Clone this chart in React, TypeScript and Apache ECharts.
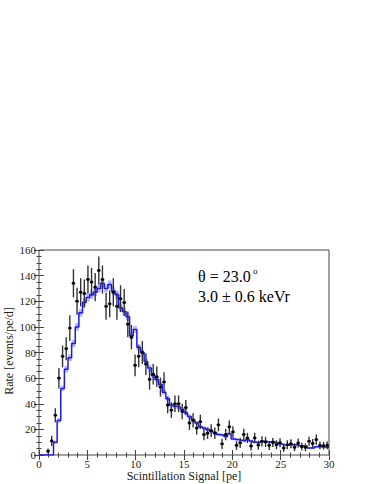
import React, { useEffect, useRef } from 'react';
import * as echarts from 'echarts';

// Histogram binning (pe)
const BIN_WIDTH = 0.375;
const FIRST_DATA_BIN = 2;

// Measured rate per bin (bins 2..79) [events/pe/d]
const dataRate = [
  3, 11, 31, 60, 77, 83, 99, 134, 120, 127,
  126, 137, 135, 131, 144, 137, 116, 118, 127, 116,
  122, 119, 102, 92, 70, 77, 80, 71, 59, 63,
  61, 53, 57, 39, 35, 40, 40, 34, 37, 25,
  27, 21, 26, 16, 17, 19, 17, 23.5, 8.7, 16,
  22, 18, 7.5, 9.5, 16, 13.3, 7, 13.3, 7.7, 10.7,
  10.2, 7.5, 9.8, 8, 9.5, 5.5, 8, 8.8, 6, 9.4,
  6.5, 6, 10.7, 9, 12, 7.5, 7.2, 7.5,
];

// Statistical error on each measured bin
const dataErr = [
  2, 4, 5.5, 8, 8.5, 9, 10, 11, 10.5, 11,
  11, 11, 11, 11, 11, 11, 10.5, 10.5, 11, 10.5,
  10.5, 10.5, 10, 9.5, 8.5, 8.5, 9, 8.5, 8, 8,
  8, 7.5, 7.5, 6.5, 6, 6.5, 6.5, 6, 6, 5.5,
  5.5, 5, 5.5, 4.5, 4.5, 5, 4.5, 5, 4, 4.5,
  5, 4.5, 3.5, 4, 4.5, 4, 3.5, 4, 3.5, 4,
  4, 3.5, 3.5, 3.5, 3.5, 3, 3.5, 3.5, 3, 3.5,
  3, 3, 3.5, 3.5, 4, 3, 3, 3,
];

// Simulated spectrum per bin (bins 0..79)
const modelRate = [
  0, 0, 0, 0, 10, 27, 52, 67, 76, 87,
  100, 111, 119, 123, 125, 127, 130, 134, 130, 133,
  128, 125, 115, 112, 108, 93, 98, 84, 80, 73,
  68, 62, 59, 55, 49, 44, 39, 38, 37.5, 35.5,
  33, 30, 27.5, 25, 22, 21, 20, 18.5, 17.5, 16,
  15.5, 14.5, 16.5, 12.5, 12, 11.5, 11, 12, 11, 10,
  9.5, 10.5, 10.5, 10, 10.5, 9.5, 8.5, 8, 7.8, 8,
  8, 7.5, 7.2, 7, 5.5, 5.5, 6.5, 6.5, 6.2, 6,
];

// Uncertainty band of the simulation
const modelErr = [
  0, 0, 0, 0, 1.2, 1.8, 2.2, 2.5, 2.6, 2.8,
  3, 3, 3.2, 3.2, 3.2, 3.2, 3.2, 3.2, 3.2, 3.2,
  3.2, 3.2, 3, 3, 3, 2.8, 2.8, 2.6, 2.6, 2.5,
  2.4, 2.3, 2.2, 2.1, 2, 1.9, 1.8, 1.8, 1.8, 1.7,
  1.6, 1.5, 1.5, 1.4, 1.3, 1.3, 1.3, 1.2, 1.2, 1.1,
  1.1, 1.1, 1.1, 1, 1, 1, 1, 1, 1, 0.9,
  0.9, 0.9, 0.9, 0.9, 0.9, 0.9, 0.8, 0.8, 0.8, 0.8,
  0.8, 0.8, 0.8, 0.8, 0.7, 0.7, 0.7, 0.7, 0.7, 0.7,
];

const xMin = 0, xMax = 30, xStep = 5;
const yMin = 0, yMax = 160, yStep = 20;

export default function App() {
  const ref = useRef<HTMLDivElement>(null);

  useEffect(() => {
    if (!ref.current) return;
    const chart = echarts.init(ref.current, null, { renderer: 'svg' });
    const serif = '"Liberation Serif", "Times New Roman", serif';
    const axisColor = '#444';

    const modelLine: number[][] = modelRate.map((v, i) => [i * BIN_WIDTH, v]);
    modelLine.push([modelRate.length * BIN_WIDTH, modelRate[modelRate.length - 1]]);

    const band = modelRate
      .map((v, i) => [i * BIN_WIDTH, (i + 1) * BIN_WIDTH, v - modelErr[i], v + modelErr[i]])
      .filter((d) => d[3] > d[2]);

    const points = dataRate.map((v, k) => {
      const i = k + FIRST_DATA_BIN;
      return [(i + 0.5) * BIN_WIDTH, v, dataErr[k]];
    });

    const tickStyle = { color: axisColor, width: 1 };
    const baseX = {
      type: 'value', min: xMin, max: xMax, interval: xStep,
      axisLine: { show: false },
      axisTick: { show: true, inside: true, length: 5, lineStyle: tickStyle },
      minorTick: { show: true, splitNumber: 5, length: 2.5, lineStyle: tickStyle },
      splitLine: { show: false },
      minorSplitLine: { show: false },
    };
    const baseY = {
      type: 'value', min: yMin, max: yMax, interval: yStep,
      axisLine: { show: false },
      axisTick: { show: true, inside: true, length: 5, lineStyle: tickStyle },
      minorTick: { show: true, splitNumber: 4, length: 2.5, lineStyle: tickStyle },
      splitLine: { show: false },
      minorSplitLine: { show: false },
    };

    chart.setOption({
      animation: false,
      grid: {
        left: 39, right: 45, top: 250, bottom: 29,
        containLabel: false, outerBoundsMode: 'none',
        show: true, borderColor: axisColor, borderWidth: 1,
        backgroundColor: 'transparent',
      },
      xAxis: [
        {
          ...baseX, position: 'bottom',
          axisLabel: { color: '#222', fontFamily: serif, fontSize: 11, margin: 3 },
          name: 'Scintillation Signal [pe]', nameLocation: 'middle', nameGap: 15,
          nameTextStyle: { color: '#222', fontFamily: serif, fontSize: 12 },
        },
        { ...baseX, position: 'top', axisLabel: { show: false } },
      ],
      yAxis: [
        {
          ...baseY, position: 'left',
          axisLabel: { color: '#222', fontFamily: serif, fontSize: 11, margin: 3 },
        },
        { ...baseY, position: 'right', axisLabel: { show: false } },
      ],
      graphic: [
        {
          type: 'text', x: 9, y: 351, rotation: Math.PI / 2,
          style: {
            text: 'Rate [events/pe/d]', fontFamily: serif, fontSize: 12, fill: '#222',
            align: 'center', verticalAlign: 'middle',
          },
        },
        {
          type: 'text', x: 198, y: 268,
          style: { text: 'θ = 23.0', fontFamily: serif, fontSize: 16, fill: '#000', verticalAlign: 'top' },
        },
        {
          type: 'text', x: 253, y: 266,
          style: { text: 'o', fontFamily: serif, fontSize: 9, fill: '#000', verticalAlign: 'top' },
        },
        {
          type: 'text', x: 198, y: 288,
          style: { text: '3.0 ± 0.6 keVr', fontFamily: serif, fontSize: 16, fill: '#000', verticalAlign: 'top' },
        },
      ],
      series: [
        {
          type: 'custom', name: 'band', xAxisIndex: 0, yAxisIndex: 0,
          data: band, encode: { x: [0, 1], y: [2, 3] },
          renderItem: (params: any, api: any) => {
            const p0 = api.coord([api.value(0), api.value(3)]);
            const p1 = api.coord([api.value(1), api.value(2)]);
            return {
              type: 'rect',
              shape: { x: p0[0], y: p0[1], width: p1[0] - p0[0], height: p1[1] - p0[1] },
              style: { fill: 'rgba(120,120,255,0.55)' },
            };
          },
          z: 1,
        },
        {
          type: 'line', name: 'model', xAxisIndex: 0, yAxisIndex: 0,
          data: modelLine, step: 'end', showSymbol: false, symbol: 'none',
          lineStyle: { color: '#1a1aee', width: 1.5 },
          z: 2,
        },
        {
          type: 'custom', name: 'data', xAxisIndex: 0, yAxisIndex: 0,
          data: points, encode: { x: 0, y: 1 },
          renderItem: (params: any, api: any) => {
            const x = api.value(0), y = api.value(1), e = api.value(2);
            const c = api.coord([x, y]);
            const top = api.coord([x, y + e]);
            const bot = api.coord([x, Math.max(0, y - e)]);
            const l = api.coord([x - BIN_WIDTH / 2, y]);
            const r = api.coord([x + BIN_WIDTH / 2, y]);
            return {
              type: 'group',
              children: [
                { type: 'line', shape: { x1: c[0], y1: top[1], x2: c[0], y2: bot[1] }, style: { stroke: '#333', lineWidth: 1.4 } },
                { type: 'line', shape: { x1: l[0], y1: c[1], x2: r[0], y2: c[1] }, style: { stroke: '#111', lineWidth: 1.4 } },
                { type: 'rect', shape: { x: c[0] - 1.3, y: c[1] - 1.3, width: 2.6, height: 2.6 }, style: { fill: '#000' } },
              ],
            };
          },
          z: 3,
        },
      ],
    });

    return () => chart.dispose();
  }, []);

  return (
    <div
      ref={ref}
      style={{ position: 'fixed', left: 0, top: 0, width: 374, height: 484, background: '#fff' }}
    />
  );
}
